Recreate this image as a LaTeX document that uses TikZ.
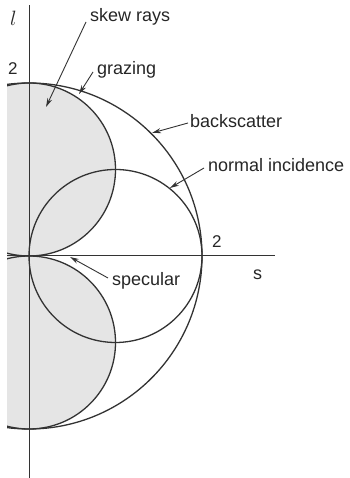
\documentclass[tikz,border=0pt]{standalone}
\usepackage{fontspec}
\setmainfont{Liberation Sans}
\usetikzlibrary{arrows.meta}
\begin{document}
\begin{tikzpicture}[x=1pt,y=1pt,
 curve/.style={draw=black!80, line width=1.3pt},
 axis/.style={draw=black!80, line width=1pt},
 shade/.style={fill=black!10},
 lab/.style={font=\fontsize{18}{20}\selectfont, text=black!85, inner sep=0pt, anchor=base west},
 num/.style={font=\fontsize{17}{19}\selectfont, text=black!85, inner sep=0pt, anchor=base west},
 pointer/.style={draw=black!80, line width=0.9pt, -{Stealth[length=9pt,width=5pt]}}]
\useasboundingbox (0,0) rectangle (349,478);
\coordinate (O) at (29,222);
\coordinate (U) at (29,308.5);
\coordinate (D) at (29,135.5);
\coordinate (N) at (115.5,222);
\begin{scope}
 \clip (7,0) rectangle (349,478);
 \fill[shade] (U) circle (86.5);
 \fill[shade] (D) circle (86.5);
 \begin{scope}
  \clip (7,0) rectangle (29,478);
  \fill[shade] (O) circle (173);
 \end{scope}
 \draw[curve] (O) circle (173);
 \draw[curve] (U) circle (86.5);
 \draw[curve] (D) circle (86.5);
 \draw[curve] (N) circle (86.5);
\end{scope}
% axes
\coordinate (vb) at (29,0);
\coordinate (vt) at (29,473);
\coordinate (hl) at (7,222);
\coordinate (hr) at (275,222);
\draw[axis] (vb) -- (vt);
\draw[axis] (hl) -- (hr);
% axis labels
\node[font=\fontsize{20}{22}\selectfont\itshape, text=black!85, inner sep=0pt, anchor=base west] (lax) at (10,452) {$l$};
\node[lab] (sax) at (253,198) {s};
\node[num] (two1) at (8,403) {2};
\node[num] (two2) at (212,230) {2};
% labels
\node[lab] (skew) at (90,456) {skew rays};
\node[lab] (graz) at (97,403) {grazing};
\node[lab] (back) at (190,350) {backscatter};
\node[lab] (norm) at (208,306) {normal incidence};
\node[lab] (spec) at (112,192) {specular};
% pointer ends
\coordinate (s1) at (86,456);  \coordinate (s2) at (46,371);
\coordinate (g1) at (93,406);  \coordinate (g2) at (79,384);
\coordinate (b1) at (188,355); \coordinate (b2) at (152,345);
\coordinate (n1) at (204,310); \coordinate (n2) at (170,290);
\coordinate (p1) at (108,200); \coordinate (p2) at (70,221);
\draw[pointer] (s1) -- (s2);
\draw[pointer] (g1) -- (g2);
\draw[pointer] (b1) -- (b2);
\draw[pointer] (n1) -- (n2);
\draw[pointer] (p1) -- (p2);
\end{tikzpicture}
\end{document}
